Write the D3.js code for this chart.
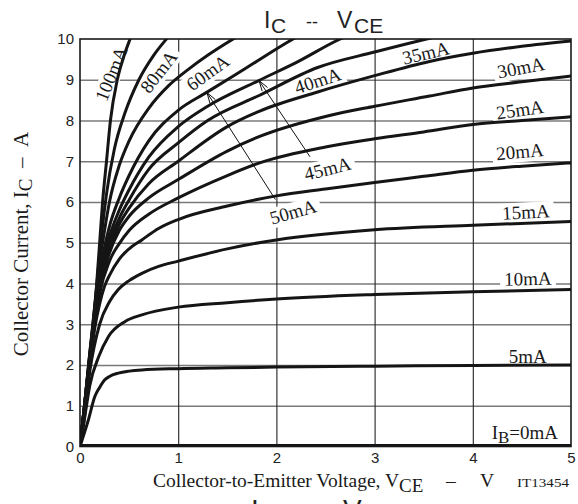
<!DOCTYPE html>
<html><head><meta charset="utf-8">
<script src="https://cdn.jsdelivr.net/npm/d3@7"></script>
<style>
body{margin:0;background:#fff;}
svg{display:block;}
</style></head><body>
<svg id="c" width="578" height="504"></svg>
<script>
// ---- data ----
const xTicks = [0, 1, 2, 3, 4, 5];
const yTicks = [0, 1, 2, 3, 4, 5, 6, 7, 8, 9, 10];
const seriesNames = ["0mA","5mA","10mA","15mA","20mA","25mA","30mA","35mA","40mA","45mA","50mA","60mA","80mA","100mA"];

const v0 = [0, 5];
const i0 = [0, 0];
const v5 = [0,0.04,0.085,0.15,0.2,0.25,0.3,0.39,0.5,0.63,1,1.5,2,3,4,5];
const i5 = [0,0.3,0.65,1.22,1.45,1.63,1.72,1.8,1.85,1.88,1.91,1.93,1.95,1.97,1.99,2.0];
const v10 = [0,0.05,0.1,0.19,0.29,0.46,0.63,1,1.5,2,3,4,5];
const i10 = [0,0.75,1.5,2.2,2.7,3.07,3.23,3.42,3.53,3.62,3.73,3.8,3.85];
const v15 = [0,0.05,0.1,0.2,0.3,0.39,0.5,0.63,0.8,1,1.5,2,3,4,5];
const i15 = [0,0.9,1.85,3.0,3.55,3.85,4.07,4.25,4.42,4.55,4.85,5.07,5.32,5.43,5.52];
const v20 = [0,0.05,0.1,0.15,0.2,0.25,0.3,0.4,0.5,0.63,0.8,1,1.5,2,2.5,3,3.5,4,4.5,5];
const i20 = [0,1.0,2.0,2.9,3.5,3.93,4.2,4.6,4.85,5.07,5.35,5.57,5.9,6.15,6.32,6.48,6.63,6.78,6.88,6.96];
const v25 = [0,0.05,0.1,0.15,0.2,0.3,0.4,0.5,0.7,1,1.5,1.83,2.5,3,3.5,4,4.5,5];
const i25 = [0,1.05,2.1,3.0,3.75,4.55,4.98,5.3,5.7,6.1,6.65,6.96,7.35,7.55,7.72,7.9,8.0,8.09];
const v30 = [0,0.05,0.1,0.15,0.2,0.3,0.4,0.5,0.7,1,1.5,1.83,2.5,3,3.56,4,4.5,5];
const i30 = [0,1.05,2.15,3.1,3.85,4.75,5.3,5.65,6.1,6.55,7.25,7.61,8.1,8.35,8.6,8.8,8.95,9.09];
const v35 = [0,0.05,0.1,0.15,0.2,0.3,0.4,0.5,0.7,1,1.5,1.83,2.42,3,3.56,4,4.5,5];
const i35 = [0,1.1,2.2,3.15,3.95,4.85,5.45,5.85,6.45,7.0,7.85,8.23,8.7,9.1,9.45,9.65,9.82,9.95];
const v40 = [0,0.05,0.1,0.15,0.2,0.3,0.4,0.5,0.7,1,1.3,1.83,2.42,3,3.53,3.8];
const i40 = [0,1.1,2.2,3.2,4.0,5.0,5.6,6.05,6.8,7.45,8.0,8.62,9.3,9.68,10,10.15];
const v45 = [0,0.05,0.1,0.15,0.2,0.3,0.4,0.5,0.7,1,1.3,1.82,2.2,2.65,2.9];
const i45 = [0,1.1,2.25,3.25,4.1,5.15,5.8,6.3,7.1,7.85,8.35,8.98,9.42,10,10.25];
const v50 = [0,0.05,0.1,0.15,0.2,0.3,0.4,0.5,0.7,1,1.29,1.7,2.17,2.4];
const i50 = [0,1.1,2.3,3.35,4.25,5.4,6.1,6.65,7.5,8.25,8.69,9.3,10,10.3];
const v60 = [0,0.05,0.1,0.15,0.2,0.25,0.3,0.4,0.5,0.7,0.9,1.1,1.3,1.56,1.7];
const i60 = [0,1.1,2.3,3.45,4.5,5.3,6.0,6.9,7.5,8.3,8.85,9.25,9.6,10,10.2];
const v80 = [0,0.05,0.1,0.14,0.18,0.22,0.27,0.35,0.46,0.6,0.75,0.88,0.95];
const i80 = [0,1.0,2.2,3.2,4.2,5.2,6.2,7.3,8.2,9.0,9.6,10,10.2];
const v100 = [0,0.06,0.1,0.14,0.17,0.2,0.23,0.27,0.31,0.38,0.45,0.51,0.55];
const i100 = [0,1,2,3,4,5,6,7,8,9,9.6,10,10.25];

// curve labels: text, position (V, A), rotation
const labelText = ["100mA","80mA","60mA","40mA","35mA","30mA","25mA","20mA","15mA","10mA","5mA","45mA","50mA"];
const labelV    = [0.316, 0.80, 1.30, 2.42, 3.52, 4.49, 4.48, 4.48, 4.54, 4.56, 4.56, 2.52, 2.17];
const labelI    = [9.15, 9.2, 9.18, 8.98, 9.66, 9.3, 8.27, 7.24, 5.76, 4.12, 2.22, 6.82, 5.76];
const labelRot  = [-68, -52, -36, -18, -13, -11, -8, -5, -3, -1, 0, -14, -16];
// arrows (from label to curve) in data units
const arrowFromV = [1.99, 2.342];
const arrowFromI = [6.06, 7.11];
const arrowToV   = [1.293, 1.823];
const arrowToI   = [8.686, 8.98];

// ---- drawing ----
const series = [
  [v0,i0],[v5,i5],[v10,i10],[v15,i15],[v20,i20],[v25,i25],[v30,i30],[v35,i35],
  [v40,i40],[v45,i45],[v50,i50],[v60,i60],[v80,i80],[v100,i100]
].map((p,k)=>({name:seriesNames[k], pts:p[0].map((v,j)=>[v,p[1][j]])}));

const X0=80, X1=571, Y0=446.5, Y1=39;
const x = d3.scaleLinear().domain([0,5]).range([X0,X1]);
const y = d3.scaleLinear().domain([0,10]).range([Y0,Y1]);
const svg = d3.select('#c');
const SERIF = '"Liberation Serif","Times New Roman",serif';
const SANS = '"Liberation Sans",Arial,sans-serif';
const NB = '\u00a0';

svg.append('defs').append('clipPath').attr('id','plot')
  .append('rect').attr('x',X0).attr('y',Y1).attr('width',X1-X0).attr('height',Y0-Y1);

// grid
const gh = svg.append('g').attr('transform',`translate(${X0},0)`)
  .call(d3.axisLeft(y).tickValues(yTicks.slice(1,-1)).tickSize(-(X1-X0)).tickFormat(''));
gh.select('.domain').remove();
gh.selectAll('line').attr('stroke','#7a7a7a').attr('stroke-width',1.3);
const gv = svg.append('g').attr('transform',`translate(0,${Y0})`)
  .call(d3.axisBottom(x).tickValues(xTicks.slice(1,-1)).tickSize(-(Y0-Y1)).tickFormat(''));
gv.select('.domain').remove();
gv.selectAll('line').attr('stroke','#222').attr('stroke-width',1.1);

const bgLayer = svg.append('g');
// frame
svg.append('rect').attr('x',X0).attr('y',Y1).attr('width',X1-X0).attr('height',Y0-Y1)
  .attr('fill','none').attr('stroke','#1a1a1a').attr('stroke-width',1.6);

// curves
const line = d3.line().x(d=>x(d[0])).y(d=>y(d[1])).curve(d3.curveMonotoneX);
svg.append('g').attr('clip-path','url(#plot)')
  .selectAll('path').data(series).join('path')
  .attr('d',d=>line(d.pts)).attr('fill','none').attr('stroke','#151515')
  .attr('stroke-width',d=>d.name==='0mA'?5:3).attr('stroke-linecap','round');

// labels
const txtLayer = svg.append('g');
labelText.forEach((t,k)=>{
  const tr = `translate(${x(labelV[k])},${y(labelI[k])}) rotate(${labelRot[k]})`;
  const tx = txtLayer.append('text').attr('transform',tr)
    .attr('text-anchor','middle').attr('dy','0.35em')
    .attr('font-family',SERIF).attr('font-size',19).attr('fill','#1a1a1a').text(t);
  const b = tx.node().getBBox();
  bgLayer.append('rect').attr('transform',tr)
    .attr('x',b.x-4).attr('y',b.y+1).attr('width',b.width+8).attr('height',b.height-1)
    .attr('fill','#fff');
});
// IB=0mA
const ib = txtLayer.append('text').attr('x',x(4.53)).attr('y',y(0.33)+6)
  .attr('text-anchor','middle').attr('font-family',SERIF).attr('font-size',19).attr('fill','#1a1a1a');
ib.append('tspan').text('I');
ib.append('tspan').attr('dy',4).attr('font-size',17).text('B');
ib.append('tspan').attr('dy',-4).text('=0mA');

// arrows
arrowFromV.forEach((v,k)=>{
  const ax=x(v), ay=y(arrowFromI[k]), bx=x(arrowToV[k]), by=y(arrowToI[k]);
  const ang = Math.atan2(ay-by, ax-bx);
  const L=11, s=0.3;
  const g = txtLayer.append('g').attr('stroke','#111').attr('stroke-width',1).attr('fill','none');
  g.append('line').attr('x1',ax).attr('y1',ay).attr('x2',bx).attr('y2',by);
  g.append('path').attr('d',`M${bx+L*Math.cos(ang+s)},${by+L*Math.sin(ang+s)}L${bx},${by}L${bx+L*Math.cos(ang-s)},${by+L*Math.sin(ang-s)}`);
});

// tick labels
const ay = svg.append('g').attr('transform',`translate(${X0},0)`)
  .call(d3.axisLeft(y).tickValues(yTicks).tickSize(0).tickPadding(6).tickFormat(d3.format('d')));
ay.select('.domain').remove();
ay.selectAll('text').attr('font-family',SANS).attr('font-size',15).attr('fill','#222');
const ax = svg.append('g').attr('transform',`translate(0,${Y0})`)
  .call(d3.axisBottom(x).tickValues(xTicks).tickSize(0).tickPadding(6).tickFormat(d3.format('d')));
ax.select('.domain').remove();
ax.selectAll('text').attr('font-family',SANS).attr('font-size',15).attr('fill','#222');

// title
const tt = svg.append('text').attr('font-family',SANS).attr('font-size',23).attr('fill','#222');
tt.append('tspan').attr('x',264).attr('y',28).text('I');
tt.append('tspan').attr('x',271).attr('y',33).attr('font-size',21).text('C');
tt.append('tspan').attr('x',306).attr('y',28).attr('font-size',18).text('--');
tt.append('tspan').attr('x',337).attr('y',28).text('V');
tt.append('tspan').attr('x',354).attr('y',33).attr('font-size',21).text('CE');

// clipped caption at bottom
const bt = svg.append('text').attr('font-family',SANS).attr('font-size',28).attr('fill','#222');
bt.append('tspan').attr('x',251).attr('y',519).text('I');
bt.append('tspan').attr('x',260).attr('y',525).attr('font-size',25).text('C');
bt.append('tspan').attr('x',306).attr('y',519).attr('font-size',22).text('--');
bt.append('tspan').attr('x',343).attr('y',519).text('V');
bt.append('tspan').attr('x',364).attr('y',525).attr('font-size',25).text('CE');

// x axis title
const xt = svg.append('text').attr('y',487)
  .attr('font-family',SERIF).attr('font-size',19.5).attr('fill','#1a1a1a');
xt.append('tspan').attr('x',153).text('Collector-to-Emitter Voltage, V');
xt.append('tspan').attr('dy',5).attr('font-size',19).text('CE');
xt.append('tspan').attr('x',446).attr('dy',-5).text('\u2013');
xt.append('tspan').attr('x',480).text('V');
svg.append('text').attr('x',517).attr('y',487).attr('font-family',SERIF).attr('font-size',13)
  .attr('textLength',52).attr('lengthAdjust','spacingAndGlyphs')
  .attr('fill','#1a1a1a').text('IT13454');

// y axis title
const yt = svg.append('text').attr('transform','translate(28,244) rotate(-90)')
  .attr('text-anchor','middle').attr('font-family',SERIF).attr('font-size',21).attr('fill','#1a1a1a');
yt.append('tspan').text('Collector Current, I');
yt.append('tspan').attr('dy',4).attr('font-size',19).text('C');
yt.append('tspan').attr('dy',-4).text(NB+NB+'\u2013'+NB+NB+'A');
</script>
</body></html>
